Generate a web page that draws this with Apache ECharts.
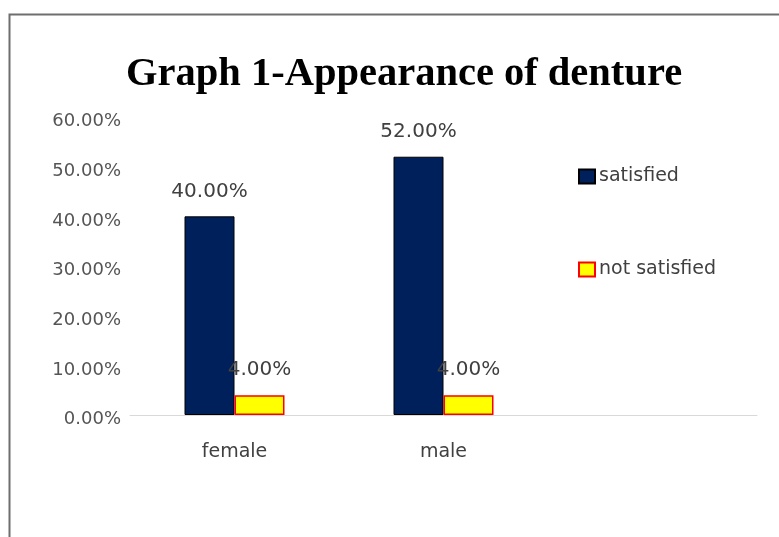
<!DOCTYPE html>
<html>
<head>
<meta charset="utf-8">
<script src="https://cdn.jsdelivr.net/npm/echarts@6/dist/echarts.min.js"></script>
<style>html,body{margin:0;padding:0;background:#fff}#c{width:779px;height:537px}</style>
</head>
<body>
<div id="c"></div>
<script>
const titleText = 'Graph 1-Appearance of denture';
const categories = ['female', 'male', ''];
const satisfied = [40, 52, null];
const notSatisfied = [4, 4, null];
const yTicks = [0, 10, 20, 30, 40, 50, 60];

const FONT = 'DejaVu Sans';
const chart = echarts.init(document.getElementById('c'));
const fmt = v => v.toFixed(2) + '%';
const legendText = {fontFamily: FONT, fontSize: 19, color: '#404040', padding: [0,0,0,-1]};
chart.setOption({
  animation: false,
  backgroundColor: '#fff',
  graphic: [{
    type: 'rect', left: 7, top: 12, shape: {width: 800, height: 560},
    style: {fill: 'none', stroke: '#6e6e6e', lineWidth: 2}, silent: true, z: -1
  }],
  title: {
    text: titleText, left: 121, top: 49,
    textStyle: {fontFamily: 'Liberation Serif', fontWeight: 'bold', fontSize: 40.5, color: '#000'}
  },
  legend: [{
    orient: 'vertical', left: 578, top: 167, padding: 0,
    itemWidth: 16, itemHeight: 14, icon: 'rect',
    textStyle: legendText, data: ['satisfied']
  }, {
    orient: 'vertical', left: 578, top: 260, padding: 0,
    itemWidth: 16, itemHeight: 14, icon: 'rect',
    textStyle: legendText, data: ['not satisfied']
  }],
  grid: {left: 130, right: 22, top: 117, bottom: 122},
  xAxis: {
    type: 'category', data: categories,
    axisLine: {lineStyle: {color: '#d9d9d9', width: 1}},
    axisTick: {show: false},
    axisLabel: {fontFamily: FONT, fontSize: 19, color: '#404040', margin: 28}
  },
  yAxis: {
    type: 'value', min: 0, max: 60, interval: 10,
    axisLine: {show: false}, axisTick: {show: false}, splitLine: {show: false},
    axisLabel: {fontFamily: FONT, fontSize: 18, color: '#555555', margin: 9, verticalAlign: 'top', lineHeight: 9, formatter: v => fmt(v)}
  },
  series: [{
    name: 'satisfied', type: 'bar', data: satisfied, barWidth: 50, barGap: '0%',
    itemStyle: {color: '#00205b', borderColor: '#000', borderWidth: 1},
    label: {show: true, position: 'top', distance: 15, fontFamily: FONT, fontSize: 20, color: '#404040', formatter: p => fmt(p.value)}
  }, {
    name: 'not satisfied', type: 'bar', data: notSatisfied, barWidth: 50,
    itemStyle: {color: '#ffff00', borderColor: '#ff0000', borderWidth: 1.5},
    label: {show: true, position: 'top', distance: 15, fontFamily: FONT, fontSize: 20, color: '#404040', formatter: p => fmt(p.value)}
  }]
});
</script>
</body>
</html>
